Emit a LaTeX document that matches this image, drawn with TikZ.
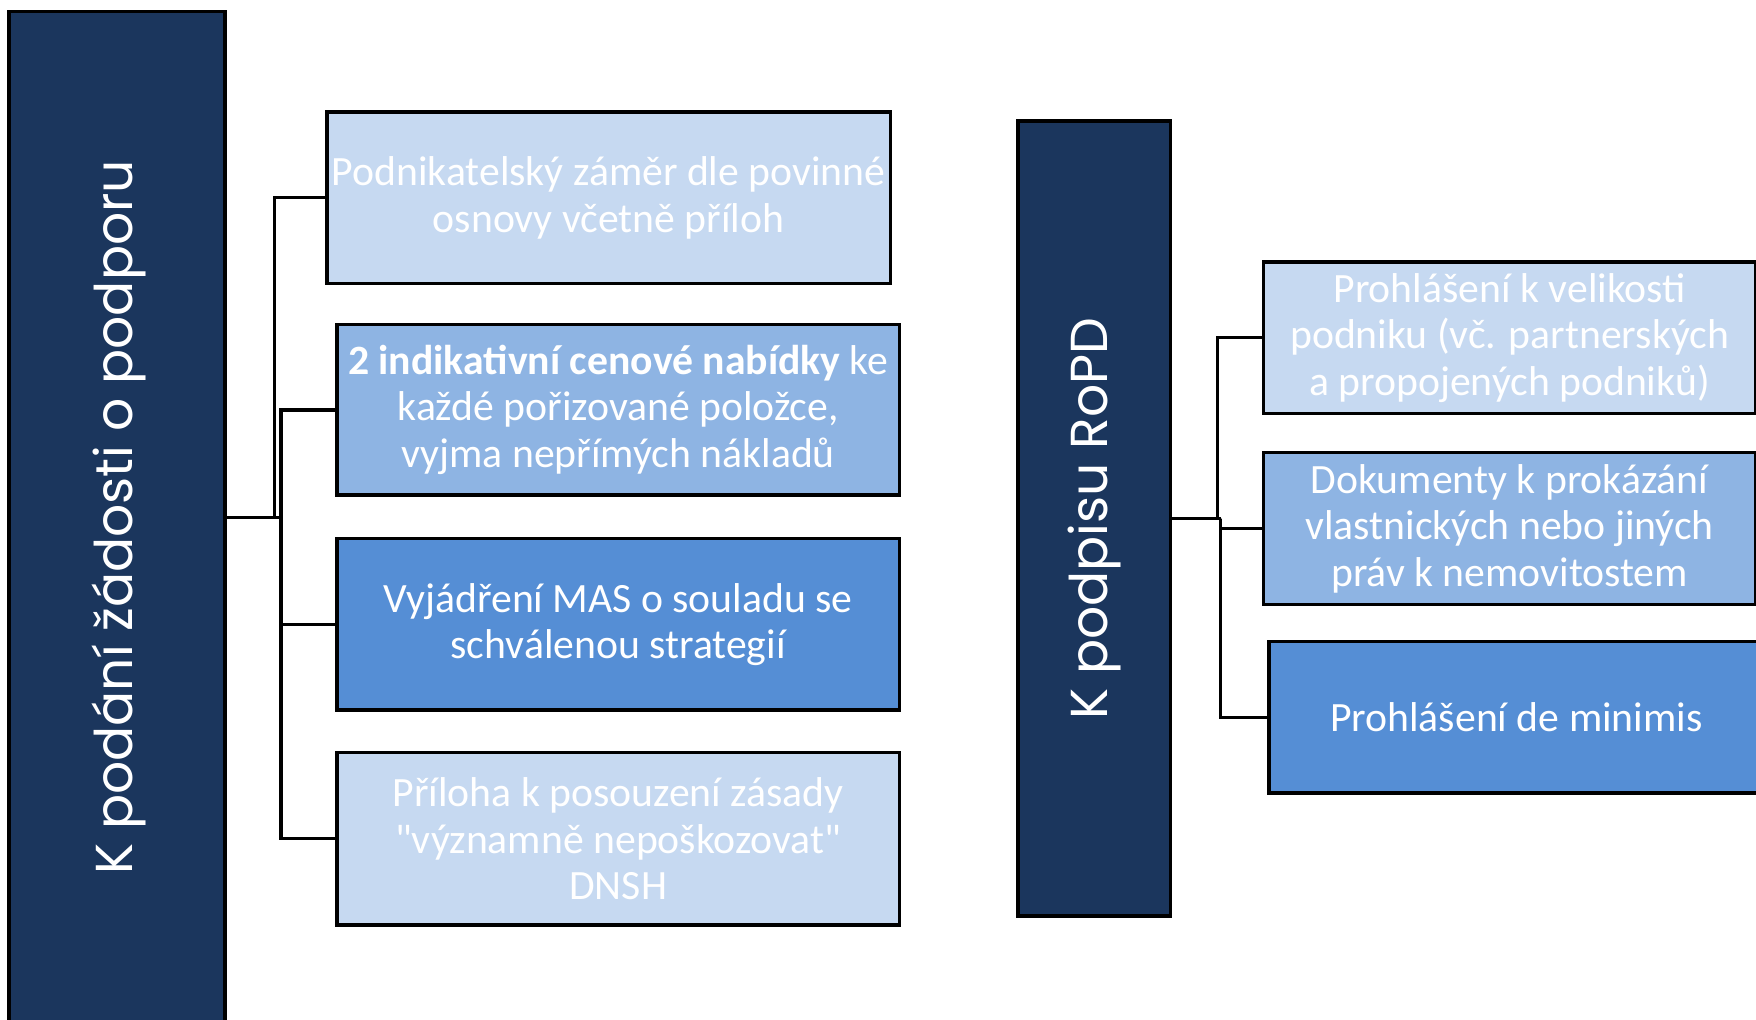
\documentclass[tikz,border=0pt]{standalone}
\usepackage{fontspec}
\setmainfont{Carlito}[Ligatures=TeXOff]
\newfontfamily\titlefont{Poppins}
\definecolor{navy}{HTML}{1B365D}
\definecolor{lightb}{HTML}{C6D9F1}
\definecolor{midb}{HTML}{8EB4E3}
\definecolor{strongb}{HTML}{558ED5}
\tikzset{
  titlebox/.style={draw=black, line width=1.7pt, fill=navy, text=white, inner sep=0pt},
  titletext/.style={text=white, rotate=90, font=\titlefont\fontsize{26.4}{32}\selectfont},
  itembox/.style={draw=black, line width=1.7pt, text=white, inner sep=0pt, align=center,
    minimum height=3.06cm, font=\fontsize{21.2}{23.6}\selectfont},
  conn/.style={draw=black, line width=1.7pt},
}
\begin{document}
\begin{tikzpicture}[x=0.02cm, y=-0.02cm]
\useasboundingbox (0,0) rectangle (1568,910);
% title boxes
\node[titlebox, minimum width=3.86cm, minimum height=18.08cm] (L) at (104.5,462) {};
\node[titletext] (Lt) at ([xshift=0.04cm]L.center) {K podání žádosti o podporu};
\node[titlebox, minimum width=2.72cm, minimum height=14.2cm] (R) at (977,463) {};
\node[titletext] (Rt) at (R.center) {K podpisu RoPD};
% left items
\node[itembox, fill=lightb, minimum width=10.06cm] (b1) at (543.5,176.5) {Podnikatelský záměr dle povinné\\osnovy včetně příloh};
\node[itembox, fill=midb, minimum width=10.04cm, minimum height=3.04cm] (b2) at (552,366) {\textbf{2 indikativní cenové nabídky} ke\\každé pořizované položce,\\vyjma nepřímých nákladů};
\node[itembox, fill=strongb, minimum width=10.04cm] (b3) at (552,557.5) {Vyjádření MAS o souladu se\\schválenou strategií};
\node[itembox, fill=lightb, minimum width=10.04cm, minimum height=3.08cm] (b4) at (552,749) {Příloha k posouzení zásady\\"významně nepoškozovat"\\DNSH};
% right items
\node[itembox, fill=lightb, minimum width=8.8cm, minimum height=2.7cm] (r1) at (1348,301.5) {Prohlášení k velikosti\\podniku (vč. partnerských\\a propojených podniků)};
\node[itembox, fill=midb, minimum width=8.8cm, minimum height=2.72cm] (r2) at (1348,472) {Dokumenty k prokázání\\vlastnických nebo jiných\\práv k nemovitostem};
\node[itembox, fill=strongb, minimum width=8.84cm, minimum height=2.7cm] (r3) at (1354,640.5) {Prohlášení de minimis};
% connectors left
\coordinate (lj1) at (245,462);
\coordinate (lj2) at (251,462);
\draw[conn] (L.east) -- (lj1) |- (b1.west);
\draw[conn] (L.east) -- (lj2);
\draw[conn] (b2.west) -| (lj2) |- (b4.west);
\draw[conn] (b3.west) -- (b3.west -| lj2);
% connectors right
\coordinate (rj1) at (1087,463);
\coordinate (rj2) at (1090,463);
\draw[conn] (R.east) -- (rj1) |- (r1.west);
\draw[conn] (R.east) -- (rj2);
\draw[conn] (r2.west) -| (rj2) |- (r3.west);
\end{tikzpicture}
\end{document}
